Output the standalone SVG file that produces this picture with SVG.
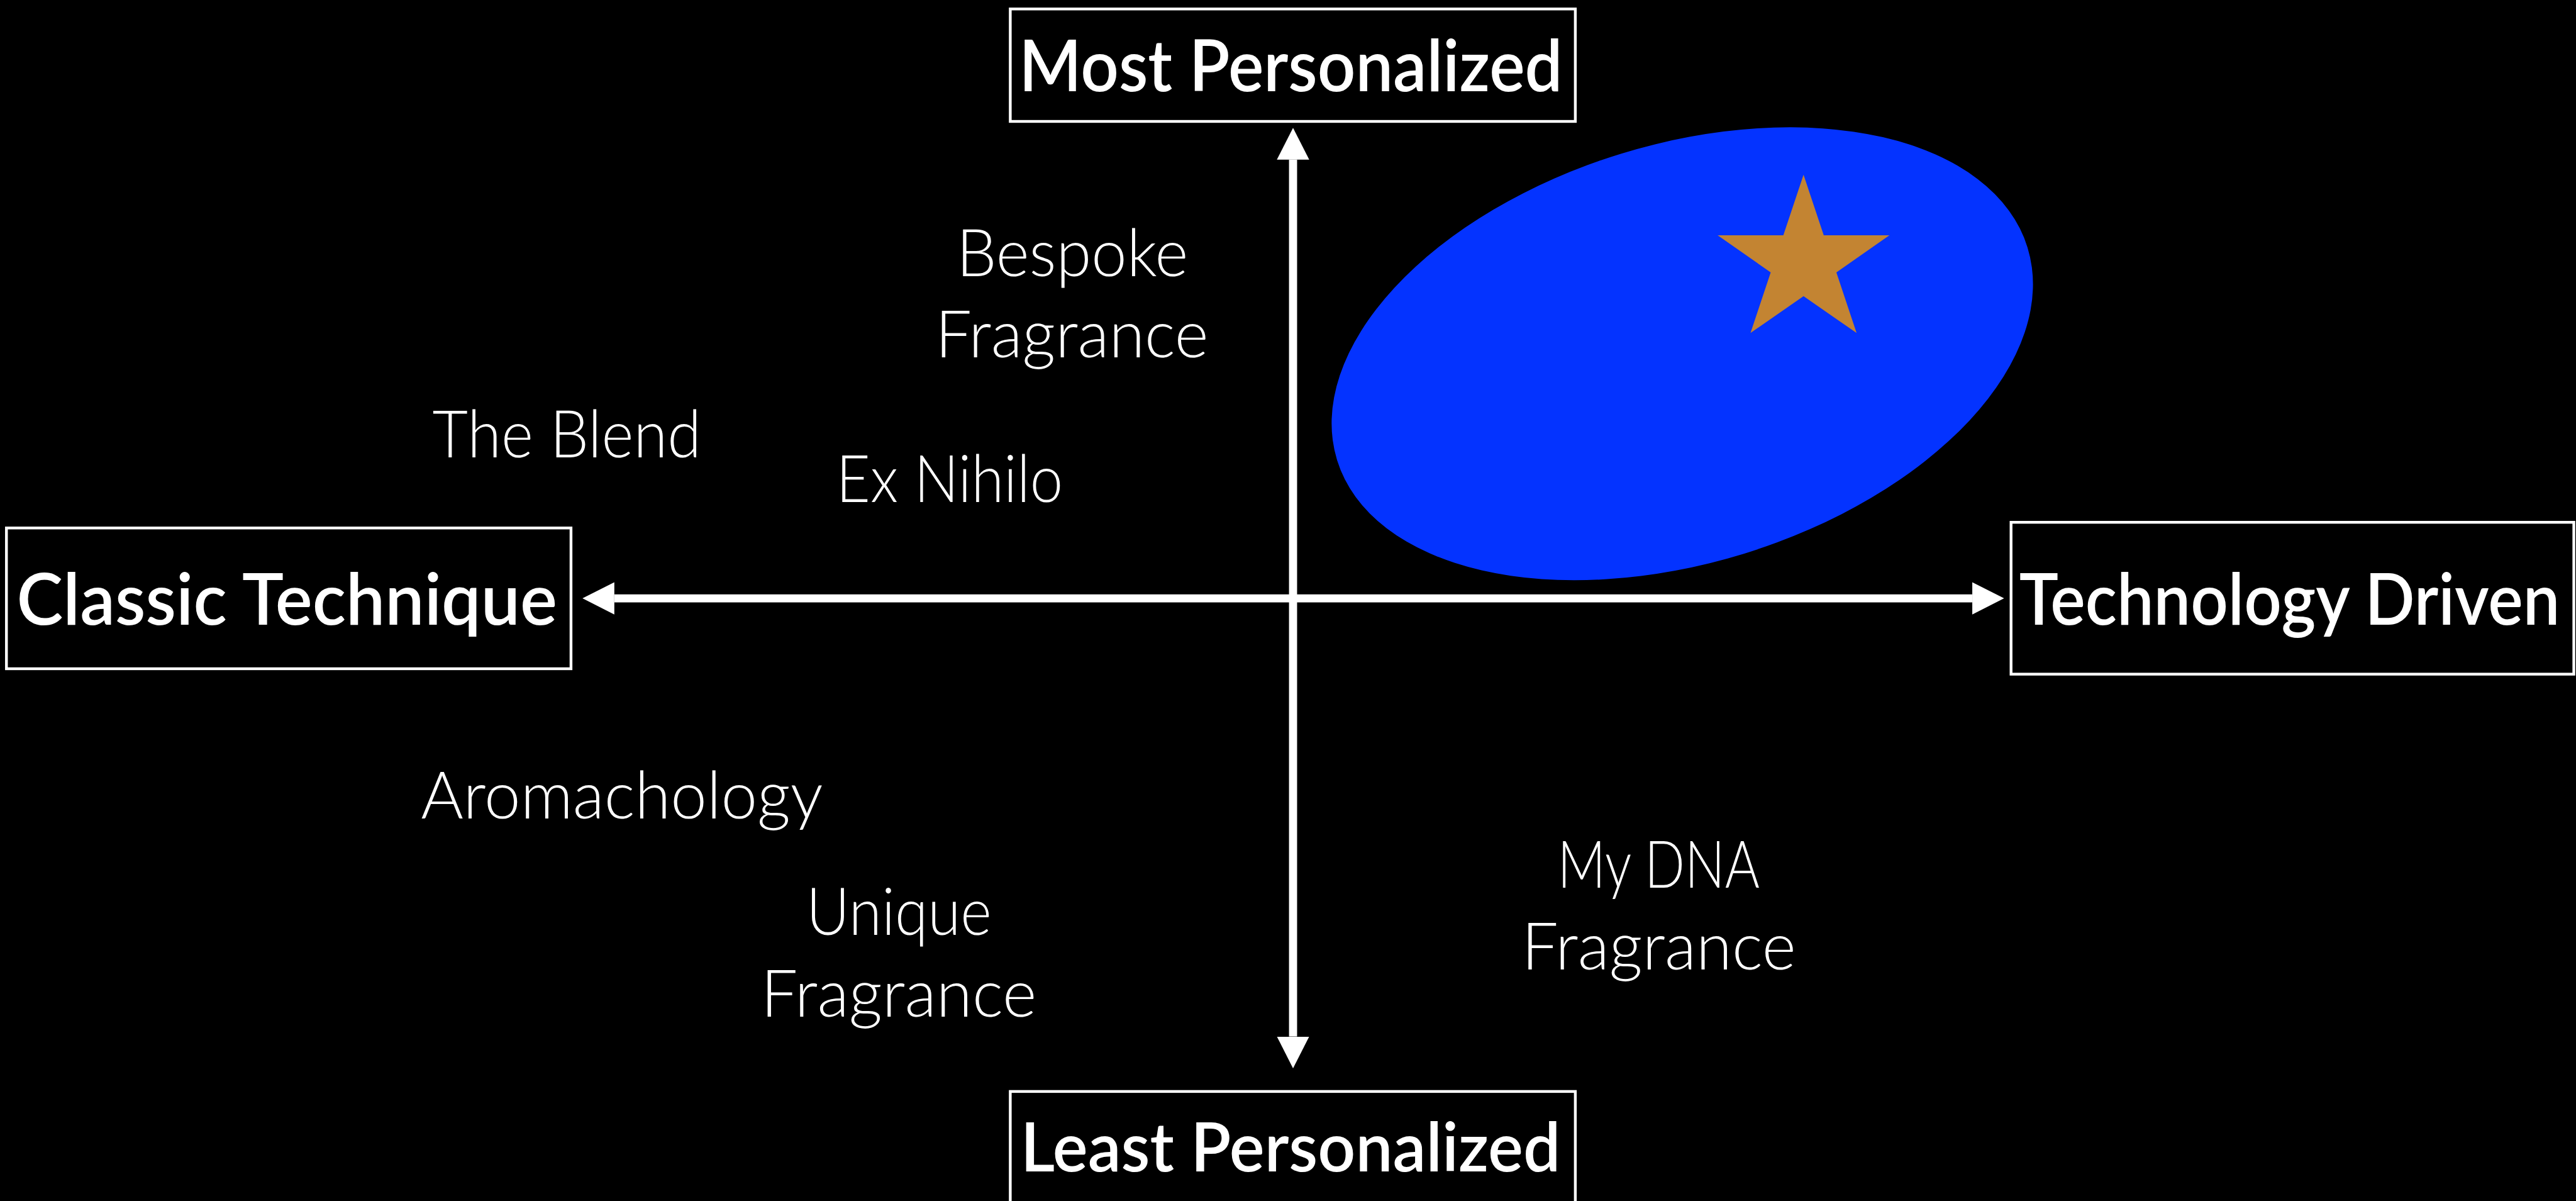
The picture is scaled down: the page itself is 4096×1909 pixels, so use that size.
<svg xmlns="http://www.w3.org/2000/svg" width="4096" height="1909" viewBox="0 0 4096 1909">
  <style>
    .box { fill: #000; stroke: #fff; stroke-width: 5.5; }
    .head { font-family: "Lato", "Roboto", "Liberation Sans", sans-serif; font-weight: 600; fill: #fff; }
    .item { font-family: "Lato", "Roboto", "Liberation Sans", sans-serif; font-weight: 300; font-size: 130px; fill: #fff; }
    .axis { stroke: #fff; stroke-width: 16; fill: none; }
  </style>
  <defs>
    <marker id="tip" viewBox="0 0 63 64" markerWidth="63" markerHeight="64" refX="0" refY="32" markerUnits="userSpaceOnUse" orient="auto-start-reverse">
      <path d="M0,0 L63,32 L0,64 Z" fill="#fff"/>
    </marker>
  </defs>
  <rect x="0" y="0" width="4096" height="1909" fill="#000"/>
  <g transform="scale(0.80329)">
    <!-- target zone with star -->
    <g id="target-zone">
      <ellipse cx="3330" cy="700" rx="715" ry="414" transform="rotate(-17.1 3330 700)" fill="#0433FF"/>
      <polygon points="3570,345.7 3610,465.7 3740,465.7 3635,539 3675,659 3570,586 3465,659 3505,539 3400,465.7 3530,465.7" fill="#C38432"/>
    </g>

    <!-- axes -->
    <g id="connectors">
      <line class="axis" x1="1216" y1="1184" x2="3904" y2="1184" marker-start="url(#tip)" marker-end="url(#tip)"/>
      <line class="axis" x1="2559.5" y1="316" x2="2559.5" y2="2051" marker-start="url(#tip)" marker-end="url(#tip)"/>
    </g>

    <!-- axis end labels -->
    <g id="most-personalized">
      <rect class="box" x="1999.75" y="17.75" width="1118.5" height="222.5"/>
      <text class="head" x="2017" y="180" font-size="141" textLength="1076" lengthAdjust="spacingAndGlyphs">Most Personalized</text>
    </g>
    <g id="classic-technique">
      <rect class="box" x="12.75" y="1044.75" width="1117.5" height="278.5"/>
      <text class="head" x="33" y="1236" font-size="141" textLength="1070" lengthAdjust="spacingAndGlyphs">Classic Technique</text>
    </g>
    <g id="technology-driven">
      <rect class="box" x="3980.75" y="1033.5" width="1114" height="300.5"/>
      <text class="head" x="3997" y="1236" font-size="141" textLength="1070" lengthAdjust="spacingAndGlyphs">Technology Driven</text>
    </g>
    <g id="least-personalized">
      <rect class="box" x="1999.75" y="2159.75" width="1118.5" height="240"/>
      <text class="head" x="2020" y="2318" font-size="135" textLength="1069" lengthAdjust="spacingAndGlyphs">Least Personalized</text>
    </g>

    <!-- brands -->
    <g id="bespoke-fragrance">
      <text class="item" x="1893" y="546" textLength="459" lengthAdjust="spacingAndGlyphs">Bespoke</text>
      <text class="item" x="1851" y="707" textLength="541" lengthAdjust="spacingAndGlyphs">Fragrance</text>
    </g>
    <g id="the-blend">
      <text class="item" x="856" y="905" textLength="532" lengthAdjust="spacingAndGlyphs">The Blend</text>
    </g>
    <g id="ex-nihilo">
      <text class="item" x="1655" y="993" textLength="449" lengthAdjust="spacingAndGlyphs">Ex Nihilo</text>
    </g>
    <g id="aromachology">
      <text class="item" x="833" y="1620" textLength="796" lengthAdjust="spacingAndGlyphs">Aromachology</text>
    </g>
    <g id="unique-fragrance">
      <text class="item" x="1596" y="1850" textLength="367" lengthAdjust="spacingAndGlyphs">Unique</text>
      <text class="item" x="1506" y="2012" textLength="546" lengthAdjust="spacingAndGlyphs">Fragrance</text>
    </g>
    <g id="my-dna-fragrance">
      <text class="item" x="3083" y="1757" textLength="400" lengthAdjust="spacingAndGlyphs">My DNA</text>
      <text class="item" x="3012" y="1918" textLength="543" lengthAdjust="spacingAndGlyphs">Fragrance</text>
    </g>
  </g>
</svg>
